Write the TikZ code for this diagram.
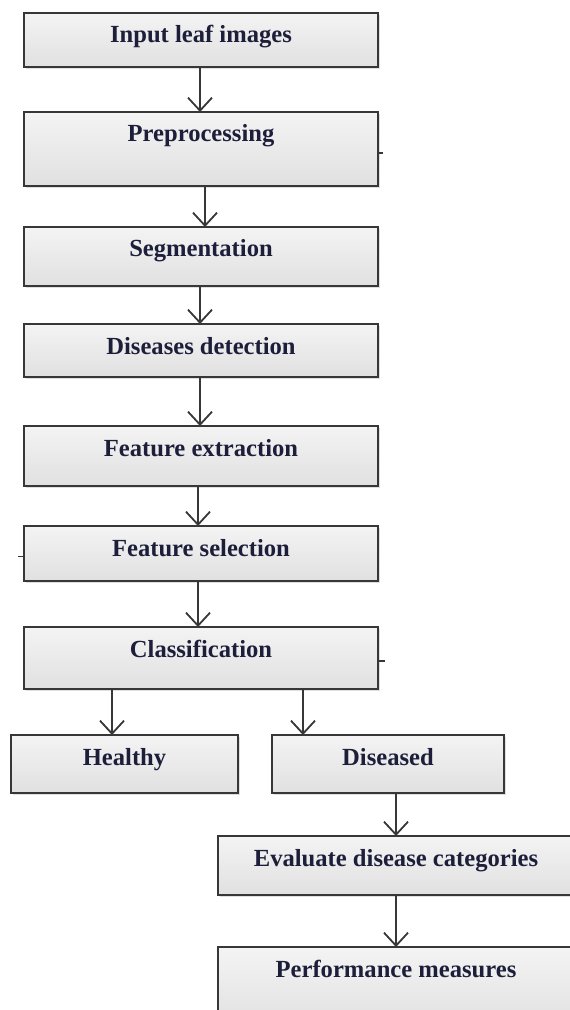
\documentclass[tikz,border=0pt]{standalone}
\usepackage{fontspec}
\setmainfont{Liberation Serif}
\usepackage{tikz}
\usetikzlibrary{arrows.meta, positioning, shadows, calc}
\definecolor{boxline}{RGB}{55,55,55}
\definecolor{boxtext}{RGB}{28,30,58}

\begin{document}
\begin{tikzpicture}[
    x=0.5pt, y=-0.5pt,
    node distance=22pt,
    procbox/.style={rectangle, draw=boxline, line width=1pt, top color=gray!9, bottom color=gray!24,
        drop shadow={opacity=0.25, shadow xshift=1pt, shadow yshift=-1pt},
        minimum width=177pt, inner sep=0pt, outer sep=0pt, text height=15pt, align=center,
        text=boxtext, font=\fontsize{12.3}{14}\selectfont\bfseries},
    flow/.style={draw=boxline, line width=0.9pt, -{Straight Barb[length=6.5pt,width=12pt]}},
    stub/.style={draw=boxline, line width=0.8pt},
]
    \useasboundingbox (0,0) rectangle (569,1010);

    % Main column
    \node[procbox, anchor=north, text depth=12pt] (input) at (201,13) {Input leaf images};
    \node[procbox, below=22.5pt of input, text depth=22pt] (prep) {Preprocessing};
    \node[procbox, below=20.5pt of prep, text depth=14.5pt] (seg) {Segmentation};
    \node[procbox, below=19pt of seg, text depth=11.5pt] (detect) {Diseases detection};
    \node[procbox, below=24.5pt of detect, text depth=15pt] (extract) {Feature extraction};
    \node[procbox, below=20pt of extract, text depth=12.5pt] (select) {Feature selection};
    \node[procbox, below=23pt of select, text depth=16pt] (class) {Classification};

    % Outcome boxes
    \node[procbox, below=23pt of class, xshift=-38.25pt, minimum width=113.5pt, text depth=14pt] (healthy) {Healthy};
    \node[procbox, below=23pt of class, xshift=93.5pt, minimum width=116pt, text depth=14pt] (diseased) {Diseased};
    \node[procbox, below=21.5pt of diseased, xshift=4pt, minimum width=178pt, text depth=14.5pt] (eval) {Evaluate disease categories};
    \node[procbox, below=26pt of eval, minimum width=178pt, text depth=26pt] (perf) {Performance measures};

    % Arrows
    \draw[flow] (input.south -| 200,0) -- (prep.north -| 200,0);
    \draw[flow] (prep.south -| 205,0) -- (seg.north -| 205,0);
    \draw[flow] (seg.south -| 200,0) -- (detect.north -| 200,0);
    \draw[flow] (detect.south -| 200,0) -- (extract.north -| 200,0);
    \draw[flow] (extract.south -| 198,0) -- (select.north -| 198,0);
    \draw[flow] (select.south -| 198,0) -- (class.north -| 198,0);
    \draw[flow] (class.south -| 112,0) -- (healthy.north -| 112,0);
    \draw[flow] (class.south -| 303,0) -- (diseased.north -| 303,0);
    \draw[flow] (diseased.south -| eval.north) -- (eval.north);
    \draw[flow] (eval.south) -- (perf.north);

    % Small stubs on the box edges
    \draw[stub] ([yshift=-2pt]prep.east) -- ++(2.5pt,0);
    \draw[stub] ([yshift=-1.5pt]class.east) -- ++(3.5pt,0);
    \draw[stub] ([yshift=-1.5pt]select.west) -- ++(-3pt,0);
\end{tikzpicture}
\end{document}
